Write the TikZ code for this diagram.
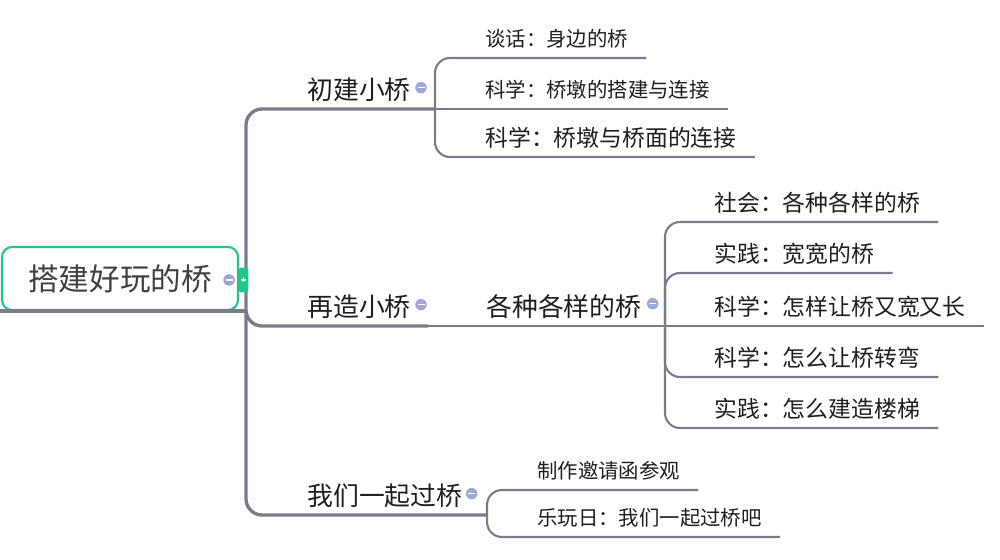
\documentclass[tikz,border=0pt]{standalone}
\usepackage{fontspec}
\newfontfamily\cjk{Noto Sans CJK SC}
\usetikzlibrary{calc}

\definecolor{linegray}{HTML}{7A7C8E}
\definecolor{rootgreen}{HTML}{22C48A}
\definecolor{foldblue}{HTML}{9EA8D8}
\definecolor{textdark}{HTML}{1E1E1E}

\newcommand{\rootsize}{\cjk\fontsize{17.4}{20}\selectfont}
\newcommand{\mainsize}{\cjk\fontsize{14.7}{17}\selectfont}
\newcommand{\leafsize}{\cjk\fontsize{13}{15}\selectfont}
\newcommand{\smallsize}{\cjk\fontsize{11.6}{14}\selectfont}

\tikzset{
    topic/.style={anchor=south west, inner xsep=0pt, inner ysep=0pt,
        minimum height=0.76cm, text=textdark},
    main/.style={topic, font=\mainsize},
    leaf/.style={topic, font=\leafsize},
    small/.style={topic, font=\smallsize},
    trunk/.style={draw=linegray, line width=1.9pt, rounded corners=0.32cm},
    twig/.style={draw=linegray, line width=1.2pt, rounded corners=0.3cm},
    fold/.style={circle, fill=foldblue, minimum size=0.23cm, inner sep=0pt,
        path picture={\draw[white, line width=0.9pt]
            ($(path picture bounding box.center)+(-3.5,0)$) --
            ($(path picture bounding box.center)+(3.5,0)$);}}
}

\begin{document}
\begin{tikzpicture}[x=0.02cm, y=-0.02cm]
    \useasboundingbox (0,0) rectangle (1000,560);

    % Root
    \node[draw=rootgreen, line width=1.2pt, rounded corners=0.2cm,
        minimum width=4.72cm, minimum height=1.26cm, font=\rootsize,
        text=textdark!85] (root) at (120,278.5) {搭建好玩的桥};

    % First level
    \node[main] (chuJian) at (307,109) {初建小桥};
    \node[main] (zaiZao) at (307,326) {再造小桥};
    \node[main] (guoQiao) at (307,515) {我们一起过桥};
    \node[main] (gezhong) at (486,326) {各种各样的桥};

    % Leaves
    \node[small] (tanhua) at (485,58) {谈话：身边的桥};
    \node[small] (kexueA) at (485,109) {科学：桥墩的搭建与连接};
    \node[leaf] (kexueB) at (485,157) {科学：桥墩与桥面的连接};

    \node[leaf] (shehui) at (714,222) {社会：各种各样的桥};
    \node[leaf] (shijianA) at (714,273) {实践：宽宽的桥};
    \node[leaf] (kexueC) at (714,326) {科学：怎样让桥又宽又长};
    \node[leaf] (kexueD) at (714,377) {科学：怎么让桥转弯};
    \node[leaf] (shijianB) at (714,428) {实践：怎么建造楼梯};

    \node[small] (zhizuo) at (537,490) {制作邀请函参观};
    \node[small] (lewan) at (537,537) {乐玩日：我们一起过桥吧};

    % Branch points
    \coordinate (rootJ) at ($(root.south east)+(7,0)$);
    \coordinate (chuJianEnd) at (435,109);
    \coordinate (zaiZaoEnd) at (428,326);
    \coordinate (guoQiaoEnd) at (487,515);
    \coordinate (gezhongEnd) at (665,326);

    % Trunk
    \draw[trunk] ($(root.south west)+(-2,0)$) -- (rootJ);
    \draw[trunk] (rootJ) |- (chuJian.south west) -- (chuJianEnd);
    \draw[trunk] (rootJ) |- (zaiZao.south west) -- (zaiZaoEnd);
    \draw[trunk] (rootJ) |- (guoQiao.south west) -- (guoQiaoEnd);
    \draw[twig, rounded corners=0pt] (zaiZaoEnd) -- (gezhong.south west) -- (gezhongEnd);

    % Twigs
    \draw[twig] (chuJianEnd) |- (tanhua.south west) -- ($(tanhua.south east)+(18,0)$);
    \draw[twig] (chuJianEnd) -- ($(kexueA.south east)+(18,0)$);
    \draw[twig] (chuJianEnd) |- (kexueB.south west) -- ($(kexueB.south east)+(18,0)$);

    \foreach \n in {shehui, shijianA, kexueD, shijianB}
        \draw[twig] (gezhongEnd) |- (\n.south west) -- ($(\n.south east)+(18,0)$);
    \draw[twig] (gezhongEnd) -- ($(kexueC.south east)+(18,0)$);

    \draw[twig] (guoQiaoEnd) |- (zhizuo.south west) -- ($(zhizuo.south east)+(18,0)$);
    \draw[twig] (guoQiaoEnd) |- (lewan.south west) -- ($(lewan.south east)+(18,0)$);

    % Fold buttons, drawn on top of the lines
    \node[fold] (rootFold) at (229,280) {};
    \node[fold] (chuJianFold) at ($(chuJian.east)+(10,-2)$) {};
    \node[fold] (zaiZaoFold) at ($(zaiZao.east)+(10,-2)$) {};
    \node[fold] (guoQiaoFold) at ($(guoQiao.east)+(9,-2)$) {};
    \node[fold] (gezhongFold) at ($(gezhong.east)+(11,-3)$) {};
    \node[fill=rootgreen, rounded corners=1.5pt, minimum width=0.19cm,
        minimum height=0.5cm, inner sep=0pt,
        path picture={\draw[white, line width=0.6pt]
            ($(path picture bounding box.center)+(-2.5,0)$) -- ($(path picture bounding box.center)+(2.5,0)$)
            ($(path picture bounding box.center)+(0,-2.5)$) -- ($(path picture bounding box.center)+(0,2.5)$);}]
        (rootTab) at (243.5,280) {};
\end{tikzpicture}
\end{document}
